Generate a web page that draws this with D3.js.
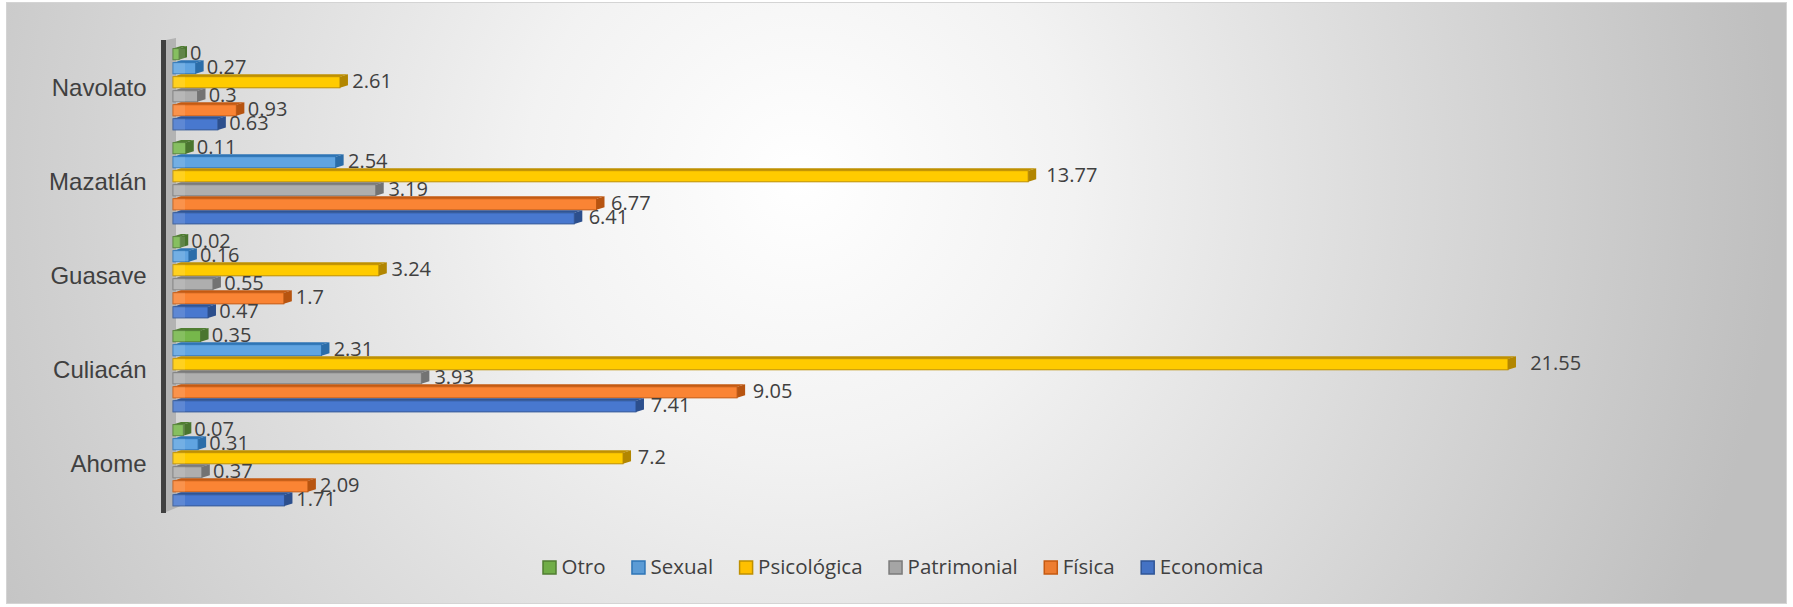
<!DOCTYPE html>
<html lang="es">
<head>
  <meta charset="UTF-8">
  <title>barras 3d</title>
  <script src="https://cdn.jsdelivr.net/npm/d3@7"></script>
</head>
<body>
<style>
  * {
    padding: 0;
    margin: 0;
  }
  body { background: #fff; }
  #app {
    width: 1793px;
    height: 607px;
  }
  .y-axis .domain {
    stroke: #404040;
    stroke-width: 5;
  }
  .y-axis text {
    font-family: "Liberation Sans", Arial, sans-serif;
    font-size: 24px;
    fill: #404040;
  }
  .etiqueta {
    font-family: "Open Sans", sans-serif;
    font-size: 20px;
    fill: #404040;
  }
  .leyenda text {
    font-family: "Open Sans", sans-serif;
    font-size: 20.5px;
    fill: #404040;
  }
</style>

<div id="app"></div>

<script>
  // datos
  const municipios = ["Navolato", "Mazatlán", "Guasave", "Culiacán", "Ahome"];
  const series = ["Otro", "Sexual", "Psicológica", "Patrimonial", "Física", "Economica"];

  const otro        = [0, 0.11, 0.02, 0.35, 0.07];
  const sexual      = [0.27, 2.54, 0.16, 2.31, 0.31];
  const psicologica = [2.61, 13.77, 3.24, 21.55, 7.2];
  const patrimonial = [0.3, 3.19, 0.55, 3.93, 0.37];
  const fisica      = [0.93, 6.77, 1.7, 9.05, 2.09];
  const economica   = [0.63, 6.41, 0.47, 7.41, 1.71];

  const colores = ["#70ad47", "#5b9bd5", "#ffc000", "#a5a5a5", "#ed7d31", "#4472c4"];
  const bordes  = ["#507e32", "#2e75b6", "#bf9000", "#7b7b7b", "#c55a11", "#2f5597"];

  const valores = [otro, sexual, psicologica, patrimonial, fisica, economica];

  // tabla plana
  const filas = [];
  series.forEach(function (s, i) {
    municipios.forEach(function (m, j) {
      filas.push({serie: s, idx: i, municipio: m, valor: valores[i][j]});
    });
  });

  const $width = 1793, $height = 607;

  const svg = d3.select("#app").append("svg")
    .attr("width", $width).attr("height", $height);

  const defs = svg.append("defs");
  const fondo = defs.append("radialGradient").attr("id", "fondo")
    .attr("gradientUnits", "userSpaceOnUse")
    .attr("cx", 800).attr("cy", 180).attr("r", 980);
  fondo.append("stop").attr("offset", "0").attr("stop-color", "#ffffff");
  fondo.append("stop").attr("offset", "0.28").attr("stop-color", "#f2f2f2");
  fondo.append("stop").attr("offset", "1").attr("stop-color", "#bfbfbf");

  svg.append("rect").attr("x", 6.5).attr("y", 2.5).attr("width", 1780).attr("height", 601)
    .attr("fill", "url(#fondo)").attr("stroke", "#d4d4d4").attr("stroke-width", 1);

  /**
   * escalas
   */
  const x = d3.scaleLinear().domain([0, 25]).range([187, 187 + 25 * 61.67]);

  const y = d3.scaleBand().domain(municipios).range([41, 511])
    .paddingInner(0.1).paddingOuter(0.05);

  const ySub = d3.scaleBand().domain(series).range([0, y.bandwidth()]).padding(0.03);

  // pared lateral gris
  svg.append("polygon")
    .attr("points", [[166, 40], [176, 38], [176, 505], [188, 503], [166, 512]].join(" "))
    .attr("fill", "#b3b3b3");

  /**
   * barras 3d
   */
  const d = 8, dy = 2.5, x0 = x(0) - 14;
  const barras = svg.append("g").selectAll("g").data(filas).enter().append("g");

  function yTop(f) { return y(f.municipio) + ySub(f.serie); }
  function fin(f) { return x(f.valor) - d; }

  barras.append("polygon")
    .attr("points", function (f) {
      const t = yTop(f);
      return [[x0, t + dy], [fin(f), t + dy], [fin(f) + d, t], [x0 + d, t]].join(" ");
    })
    .attr("fill", function (f) { return bordes[f.idx]; });

  barras.append("rect")
    .attr("x", x0)
    .attr("y", function (f) { return yTop(f) + dy; })
    .attr("width", function (f) { return fin(f) - x0; })
    .attr("height", ySub.bandwidth() - dy)
    .attr("fill", function (f) { return d3.color(colores[f.idx]).brighter(0.15); })
    .attr("stroke", function (f) { return bordes[f.idx]; })
    .attr("stroke-width", 1);

  barras.append("polygon")
    .attr("points", function (f) {
      const t = yTop(f), h = ySub.bandwidth();
      return [[fin(f), t + dy], [fin(f) + d, t], [fin(f) + d, t + h - dy], [fin(f), t + h]].join(" ");
    })
    .attr("fill", function (f) { return d3.color(bordes[f.idx]).darker(0.2); });

  // franja de la pared sobre el inicio de las barras
  barras.append("rect")
    .attr("x", x0).attr("width", 12)
    .attr("y", function (f) { return yTop(f) + dy; })
    .attr("height", ySub.bandwidth() - dy)
    .attr("fill", "#ffffff").attr("opacity", 0.12);

  /**
   * etiquetas de valor
   */
  svg.append("g").selectAll("text").data(filas).enter().append("text")
    .classed("etiqueta", true)
    .text(function (f) { return f.valor; })
    .attr("x", function (f) { return x(f.valor) + 3 + 0.52 * f.valor; })
    .attr("y", function (f) { return yTop(f) + ySub.bandwidth() / 2 + 2; })
    .attr("dominant-baseline", "middle");

  /**
   * eje y
   */
  const axisY = d3.axisLeft(y).tickSize(0).tickSizeOuter(0).tickPadding(17);
  svg.append("g").classed("y-axis", true).attr("transform", "translate(163.5,0)")
    .call(axisY);
  svg.select(".y-axis .domain").attr("d", "M0,40V513");

  /**
   * leyenda
   */
  const leyenda = svg.append("g").classed("leyenda", true);
  const items = leyenda.selectAll("g").data(series).enter().append("g");
  items.append("rect").attr("x", 0.5).attr("y", -7).attr("width", 13).attr("height", 13)
    .attr("fill", function (s, i) { return colores[i]; })
    .attr("stroke", function (s, i) { return bordes[i]; })
    .attr("stroke-width", 1.5);
  items.append("text").attr("x", 19).attr("y", 1)
    .attr("dominant-baseline", "middle").text(function (s) { return s; });

  let pos = 0;
  const anchos = [];
  items.each(function () {
    const w = 19 + this.querySelector("text").getComputedTextLength();
    anchos.push(pos);
    pos += w + 26;
  });
  const total = pos - 26;
  items.attr("transform", function (s, i) {
    return "translate(" + (903 - total / 2 + anchos[i]) + ",568)";
  });
</script>
</body>
</html>
